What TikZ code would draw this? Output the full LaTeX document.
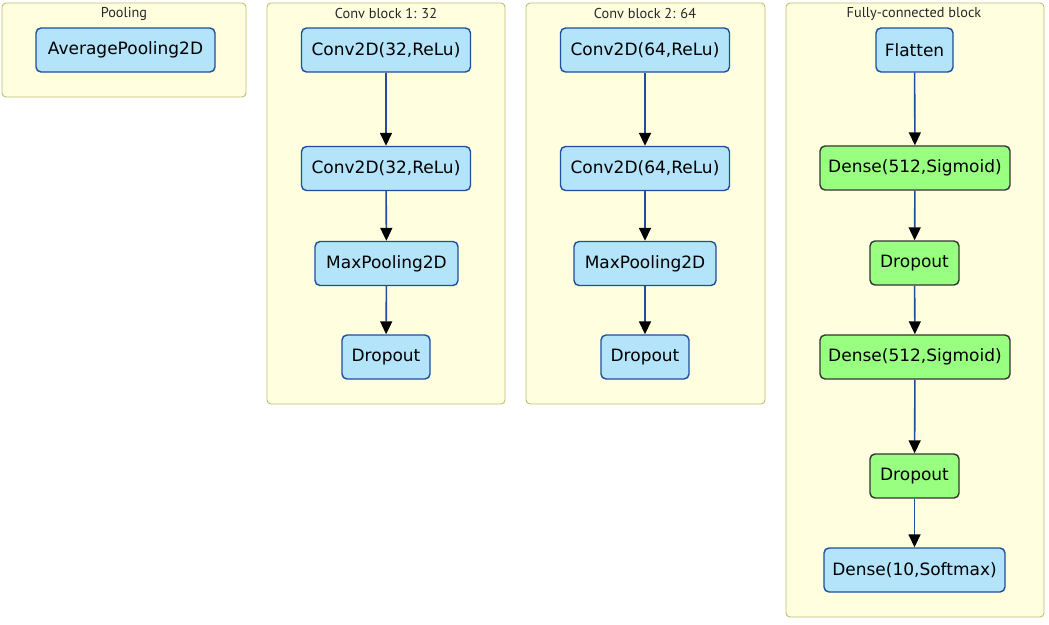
\documentclass[tikz,border=0pt]{standalone}
\usepackage{fontspec}
\setmainfont{DejaVu Sans}
\newfontfamily\blockfont{PT Sans}
\usetikzlibrary{arrows.meta}
\definecolor{clusterfill}{HTML}{FFFFE0}
\definecolor{clusterline}{HTML}{BDBD6E}
\definecolor{layerfill}{HTML}{B3E4FA}
\definecolor{layerline}{HTML}{1F4E9E}
\definecolor{densefill}{HTML}{99FF80}
\definecolor{denseline}{HTML}{333333}
\definecolor{edgeline}{HTML}{1F4E9E}
\tikzset{
  cluster/.style={draw=clusterline, fill=clusterfill, line width=0.9pt, rounded corners=4pt},
  clabel/.style={font=\blockfont\fontsize{14.3}{16}\selectfont, text=black!85, inner sep=0pt},
  layer/.style={draw=layerline, fill=layerfill, line width=1.4pt, rounded corners=5pt,
    minimum height=44pt, inner xsep=6pt, font=\fontsize{17}{20}\selectfont},
  dense/.style={layer, draw=denseline, fill=densefill},
  flow/.style={draw=edgeline, line width=1.6pt, -{Triangle[length=13pt,width=12pt,black]}}
}
\begin{document}
\begin{tikzpicture}[x=1pt,y=-1pt]
\useasboundingbox (0,0) rectangle (1049,624);
% block frames
\draw[cluster] (2,3) rectangle (246,97);
\draw[cluster] (267,3) rectangle (505,404);
\draw[cluster] (526,3) rectangle (765,404);
\draw[cluster] (786,3) rectangle (1044,617);
\node[clabel] (tpool) at (124,13.5) {Pooling};
\node[clabel] (tconv1) at (386,13.5) {Conv block 1: 32};
\node[clabel] (tconv2) at (645,13.5) {Conv block 2: 64};
\node[clabel] (tfc) at (914,13.5) {Fully-connected block};
% pooling
\node[layer, minimum width=179pt] (avg) at (125.5,50) {AveragePooling2D};
% conv block 1
\node[layer, minimum width=169pt] (c1a) at (386,50) {Conv2D(32,ReLu)};
\node[layer, minimum width=169pt] (c1b) at (386,168.5) {Conv2D(32,ReLu)};
\node[layer, minimum width=143pt] (c1p) at (386.5,263.5) {MaxPooling2D};
\node[layer, minimum width=88pt] (c1d) at (386,357) {Dropout};
% conv block 2
\node[layer, minimum width=169pt] (c2a) at (645,50) {Conv2D(64,ReLu)};
\node[layer, minimum width=169pt] (c2b) at (645,168.5) {Conv2D(64,ReLu)};
\node[layer, minimum width=142pt] (c2p) at (645,263.5) {MaxPooling2D};
\node[layer, minimum width=88pt] (c2d) at (645,357) {Dropout};
% fully-connected block
\node[layer, minimum width=77pt] (flat) at (914.5,50) {Flatten};
\node[dense, minimum width=190pt] (d1) at (915,168) {Dense(512,Sigmoid)};
\node[dense, minimum width=89pt] (dr1) at (914.5,263) {Dropout};
\node[dense, minimum width=190pt] (d2) at (915,357) {Dense(512,Sigmoid)};
\node[dense, minimum width=89pt] (dr2) at (914.5,476) {Dropout};
\node[layer, minimum width=181pt] (out) at (914.5,570) {Dense(10,Softmax)};
% connections
\draw[flow] (c1a) -- (c1b);
\draw[flow] (c1b) -- (c1p);
\draw[flow] (c1p) -- (c1d);
\draw[flow] (c2a) -- (c2b);
\draw[flow] (c2b) -- (c2p);
\draw[flow] (c2p) -- (c2d);
\draw[flow] (flat) -- (d1);
\draw[flow] (d1) -- (dr1);
\draw[flow] (dr1) -- (d2);
\draw[flow] (d2) -- (dr2);
\draw[flow] (dr2) -- (out);
\end{tikzpicture}
\end{document}
